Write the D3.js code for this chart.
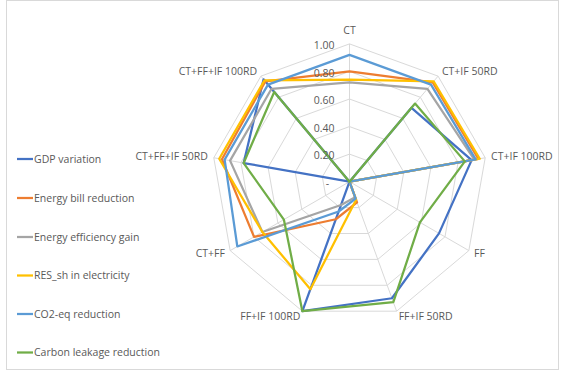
<!DOCTYPE html>
<html>
<head>
<meta charset="utf-8">
<script src="https://cdn.jsdelivr.net/npm/d3@7"></script>
<style>
  html, body { margin: 0; padding: 0; background: #fff; }
  svg { display: block; }
  text { font-family: "Open Sans", "Noto Sans", sans-serif; fill: #595959; }
</style>
</head>
<body>
<svg id="chart" width="565" height="374"></svg>
<script>
// Scenario axes, clockwise from the top
const categories = ["CT", "CT+IF 50RD", "CT+IF 100RD", "FF", "FF+IF 50RD",
  "FF+IF 100RD", "CT+FF", "CT+FF+IF 50RD", "CT+FF+IF 100RD"];

// Normalised indicator scores per scenario
const gdpVariation        = [0.00, 0.70, 0.90, 0.75, 0.90, 1.00, 0.00, 0.78, 0.97];
const energyBillReduction = [0.80, 0.94, 0.95, 0.00, 0.16, 0.29, 0.80, 0.94, 0.95];
const energyEfficiency    = [0.72, 0.88, 0.92, 0.00, 0.12, 0.18, 0.73, 0.88, 0.88];
const resShElectricity    = [0.74, 0.95, 0.96, 0.00, 0.14, 0.83, 0.73, 0.96, 0.96];
const co2Reduction        = [0.92, 0.92, 0.93, 0.00, 0.13, 0.23, 0.94, 0.92, 0.92];
const carbonLeakage       = [0.00, 0.74, 0.85, 0.59, 0.93, 1.00, 0.55, 0.78, 0.85];

const seriesNames = ["GDP variation", "Energy bill reduction", "Energy efficiency gain",
  "RES_sh in electricity", "CO2-eq reduction", "Carbon leakage reduction"];
const seriesValues = [gdpVariation, energyBillReduction, energyEfficiency,
  resShElectricity, co2Reduction, carbonLeakage];
const seriesColors = ["#4472C4", "#ED7D31", "#A5A5A5", "#FFC000", "#5B9BD5", "#70AD47"];

const tickValues = [0, 0.2, 0.4, 0.6, 0.8, 1.0];
const tickLabels = ["-", "0.20", "0.40", "0.60", "0.80", "1.00"];

const svg = d3.select("#chart");
const W = 565, H = 374;

// outer frame of the chart area
svg.append("rect")
  .attr("x", 6.5).attr("y", 0.5).attr("width", 552).attr("height", 369)
  .attr("fill", "none").attr("stroke", "#d9d9d9").attr("stroke-width", 1);

const cx = 349.5, cy = 181.7, R = 137.8;
const r = d3.scaleLinear().domain([0, 1]).range([0, R]);
const angle = d3.scalePoint().domain(d3.range(categories.length))
  .range([0, 2 * Math.PI * (categories.length - 1) / categories.length]);

const g = svg.append("g").attr("transform", `translate(${cx},${cy})`);

// web grid rings
const ringLine = d3.lineRadial()
  .angle((d, i) => angle(i))
  .radius(d => r(d))
  .curve(d3.curveLinearClosed);

tickValues.filter(t => t > 0).forEach(t => {
  g.append("path")
    .attr("d", ringLine(categories.map(() => t)))
    .attr("fill", "none").attr("stroke", "#d9d9d9").attr("stroke-width", 1);
});

// spokes
categories.forEach((c, i) => {
  const a = angle(i);
  g.append("line")
    .attr("x1", 0).attr("y1", 0)
    .attr("x2", r(1) * Math.sin(a)).attr("y2", -r(1) * Math.cos(a))
    .attr("stroke", "#d9d9d9").attr("stroke-width", 1);
});

// category labels around the web
categories.forEach((c, i) => {
  const a = angle(i);
  const s = Math.sin(a), k = Math.cos(a);
  const lr = r(1) + 6;
  let x = lr * s, y = -lr * k;
  let anchor = "middle";
  if (s > 0.01) anchor = "start";
  else if (s < -0.01) anchor = "end";
  if (Math.abs(s) <= 0.01) y -= 8;
  g.append("text")
    .attr("x", x).attr("y", y).attr("dy", "0.35em")
    .attr("text-anchor", anchor)
    .attr("font-size", "10.5px")
    .text(c);
});

// series polygons
const seriesLine = d3.lineRadial()
  .angle((d, i) => angle(i))
  .radius(d => r(d))
  .curve(d3.curveLinearClosed);

seriesValues.forEach((vals, si) => {
  g.append("path")
    .attr("d", seriesLine(vals))
    .attr("fill", "none")
    .attr("stroke", seriesColors[si])
    .attr("stroke-width", 2.25)
    .attr("stroke-linejoin", "round");
});

// radial value labels along the top spoke
tickValues.forEach((t, i) => {
  const isZero = t === 0;
  g.append("text")
    .attr("x", isZero ? -22 : -15)
    .attr("y", -r(t) + 1.5)
    .attr("dy", "0.35em")
    .attr("text-anchor", isZero ? "middle" : "end")
    .attr("font-size", "10.5px")
    .text(tickLabels[i]);
});

// legend
const legend = svg.append("g");
const legendY = [159, 198, 237, 275.5, 314, 352.5];
seriesNames.forEach((n, i) => {
  const y = legendY[i];
  legend.append("line")
    .attr("x1", 17).attr("x2", 33).attr("y1", y).attr("y2", y)
    .attr("stroke", seriesColors[i]).attr("stroke-width", 2.25);
  legend.append("text")
    .attr("x", 34).attr("y", y).attr("dy", "0.35em")
    .attr("font-size", "10.5px")
    .text(n);
});
</script>
</body>
</html>
